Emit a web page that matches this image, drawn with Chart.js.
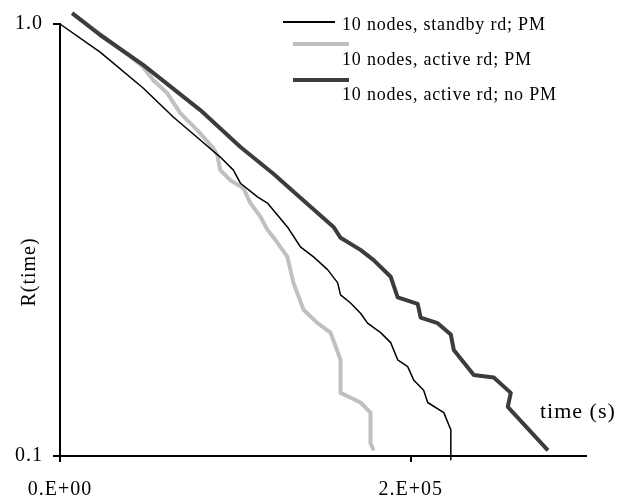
<!DOCTYPE html>
<html>
<head>
<meta charset="utf-8">
<script src="https://cdn.jsdelivr.net/npm/chart.js@4"></script>
<style>
body { margin: 0; background: #fff; }
#wrap { width: 633px; height: 500px; }
</style>
</head>
<body>
<div id="wrap"><canvas id="grafica" width="633" height="500"></canvas></div>
<script>
// tiempo (s) y fiabilidad R(t) de cada configuracion
const standbyT = [0, 22900, 47400, 64600, 80000, 91400, 98900, 102900, 112600, 118300, 129700, 137100, 144600, 152600, 158300, 160000, 165700, 171400, 175400, 182900, 188600, 192600, 198300, 201700, 207400, 209700, 218900, 222900, 222900];
const standbyR = [1.0, 0.861, 0.711, 0.609, 0.539, 0.492, 0.459, 0.428, 0.398, 0.385, 0.339, 0.305, 0.289, 0.270, 0.252, 0.236, 0.226, 0.214, 0.203, 0.193, 0.183, 0.167, 0.161, 0.150, 0.142, 0.133, 0.126, 0.115, 0.098];

const activeT = [6900, 38300, 47400, 53100, 61100, 68600, 78300, 87400, 89700, 91400, 97100, 104600, 108600, 114300, 118300, 121700, 129700, 133100, 138900, 146900, 154300, 160000, 160000, 171400, 177100, 177100, 178900];
const activeR = [1.060, 0.852, 0.795, 0.742, 0.692, 0.622, 0.568, 0.516, 0.498, 0.459, 0.435, 0.417, 0.385, 0.358, 0.334, 0.321, 0.289, 0.252, 0.218, 0.203, 0.193, 0.167, 0.140, 0.133, 0.126, 0.107, 0.103];

const noPmT = [6900, 22900, 47400, 80000, 102900, 121700, 137100, 156000, 160000, 171400, 178900, 188600, 192600, 204000, 205700, 215400, 222900, 224600, 236000, 247400, 257100, 255400, 278300];
const noPmR = [1.060, 0.943, 0.804, 0.632, 0.519, 0.450, 0.396, 0.339, 0.320, 0.300, 0.284, 0.260, 0.233, 0.225, 0.209, 0.203, 0.191, 0.176, 0.154, 0.152, 0.140, 0.130, 0.103];

const etiquetas = ['10 nodes, standby rd; PM', '10 nodes, active rd; PM', '10 nodes, active rd; no PM'];

const xTickValues = [0, 200000];
const xTickLabels = ['0.E+00', '2.E+05'];
const yTickValues = [0.1, 1];
const yTickLabels = ['0.1', '1.0'];

function puntos(ts, rs) {
    return ts.map((t, i) => ({ x: t, y: rs[i] }));
}

Chart.defaults.font.family = '"Liberation Serif", "Times New Roman", serif';
Chart.defaults.color = '#000';

// leyenda y textos sueltos dibujados a mano
const extras = {
    id: 'extras',
    beforeDraw(chart) {
        chart.ctx.letterSpacing = '1px';
    },
    afterDraw(chart) {
        const ctx = chart.ctx;
        ctx.save();
        ctx.letterSpacing = '0.8px';
        const pos = [[283, 335, 22, 25], [293, 349, 44, 60], [293, 349, 80, 95]];
        chart.data.datasets.forEach((ds, i) => {
            const p = pos[i];
            ctx.strokeStyle = ds.borderColor;
            ctx.lineWidth = ds.borderWidth === 1.5 ? 2 : ds.borderWidth;
            ctx.beginPath();
            ctx.moveTo(p[0], p[2]);
            ctx.lineTo(p[1], p[2]);
            ctx.stroke();
            ctx.fillStyle = '#000';
            ctx.font = '18px "Liberation Serif"';
            ctx.textAlign = 'left';
            ctx.textBaseline = 'middle';
            ctx.fillText(ds.label, 342, p[3]);
        });

        ctx.letterSpacing = '1px';
        ctx.font = '22px "Liberation Serif"';
        ctx.fillText('time (s)', 540, 412);

        ctx.font = '20px "Liberation Serif"';
        ctx.translate(30, 272);
        ctx.rotate(-Math.PI / 2);
        ctx.textAlign = 'center';
        ctx.fillText('R(time)', 0, 0);
        ctx.restore();
    }
};

const ctx = document.getElementById('grafica').getContext('2d');

new Chart(ctx, {
    type: 'line',
    data: {
        datasets: [
            {
                label: etiquetas[0],
                data: puntos(standbyT, standbyR),
                borderColor: '#000000',
                borderWidth: 1.5,
                order: 0
            },
            {
                label: etiquetas[1],
                data: puntos(activeT, activeR),
                borderColor: '#c0c0c0',
                borderWidth: 4,
                order: 2
            },
            {
                label: etiquetas[2],
                data: puntos(noPmT, noPmR),
                borderColor: '#3c3c3c',
                borderWidth: 4,
                order: 1
            }
        ]
    },
    options: {
        responsive: false,
        animation: false,
        clip: false,
        elements: {
            point: { radius: 0 },
            line: { tension: 0, borderJoinStyle: 'round', fill: false }
        },
        layout: { padding: { top: 24, right: 47, left: 0, bottom: 0 } },
        plugins: {
            legend: { display: false },
            tooltip: { enabled: false }
        },
        scales: {
            x: {
                type: 'linear',
                min: 0,
                max: 300000,
                afterBuildTicks: s => { s.ticks = xTickValues.map(v => ({ value: v })); },
                afterFit: s => { s.height = 44; },
                ticks: {
                    font: { size: 20 },
                    padding: 16,
                    maxRotation: 0,
                    callback: v => xTickLabels[xTickValues.indexOf(v)]
                },
                grid: { drawOnChartArea: false, tickLength: 6, color: '#000', lineWidth: 2 },
                border: { color: '#000', width: 2 }
            },
            y: {
                type: 'logarithmic',
                min: 0.1,
                max: 1,
                afterBuildTicks: s => { s.ticks = yTickValues.map(v => ({ value: v })); },
                afterFit: s => { s.width = 60; },
                ticks: {
                    font: { size: 20 },
                    padding: 10,
                    callback: v => yTickLabels[yTickValues.indexOf(v)]
                },
                grid: { drawOnChartArea: false, tickLength: 7, color: '#000', lineWidth: 2 },
                border: { color: '#000', width: 2 }
            }
        }
    },
    plugins: [extras]
});
</script>
</body>
</html>
